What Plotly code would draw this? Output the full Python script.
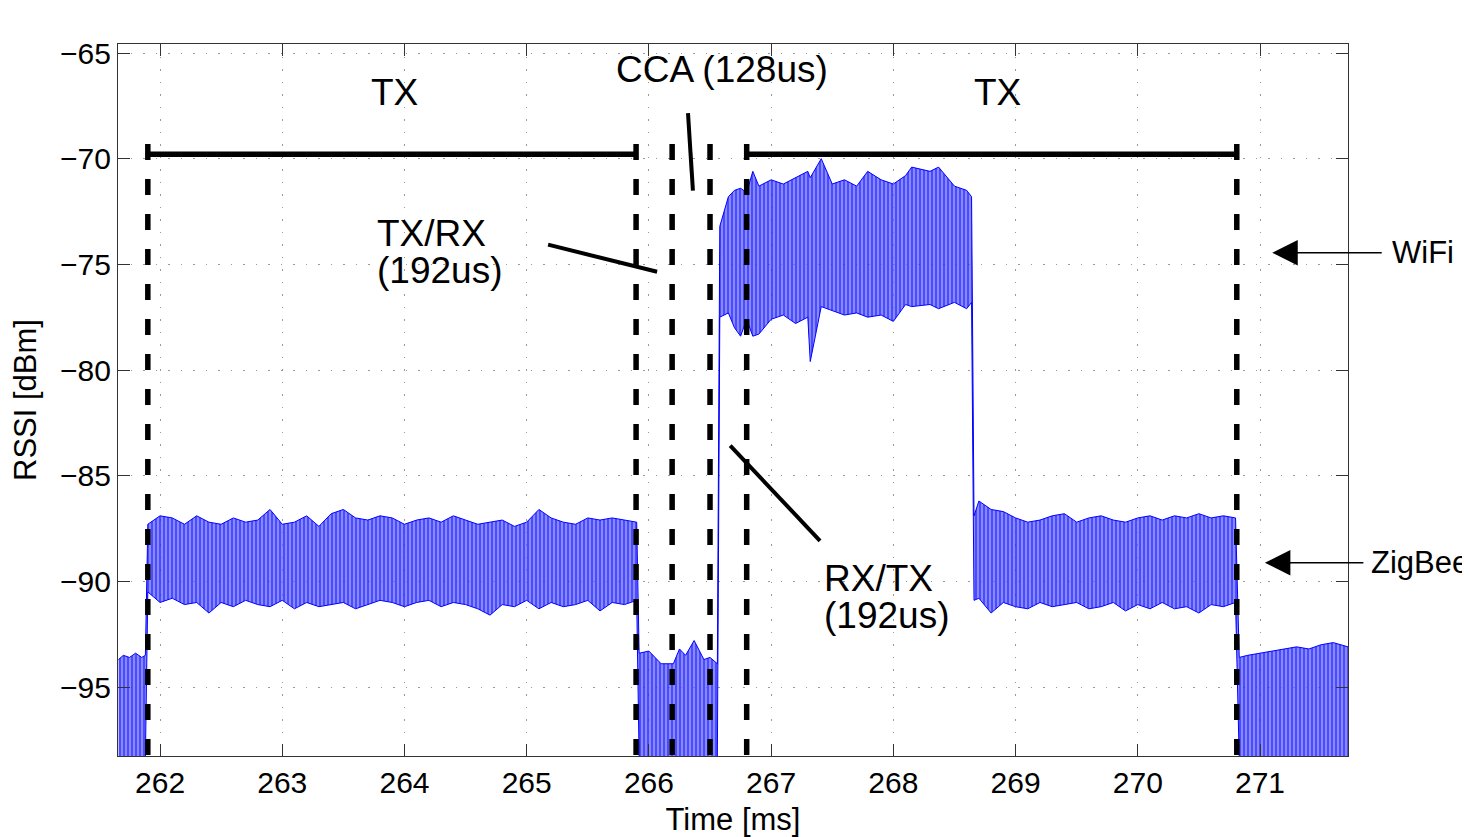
import plotly.graph_objects as go

# ---------------- data ----------------
# RSSI trace drawn as its upper / lower envelope (dBm) vs time (ms)
seg1_t  = [261.66, 261.70, 261.75, 261.80, 261.85, 261.88]
seg1_hi = [-93.7, -93.5, -93.6, -93.4, -93.6, -93.5]
seg1_lo = [-98.4, -98.4, -98.4, -98.4, -98.4, -98.4]

seg2_t  = [261.90, 262.0, 262.1, 262.2, 262.3, 262.4, 262.5, 262.6, 262.7, 262.8,
           262.9, 263.0, 263.1, 263.2, 263.3, 263.4, 263.5, 263.6, 263.7, 263.8,
           263.9, 264.0, 264.1, 264.2, 264.3, 264.4, 264.5, 264.6, 264.7, 264.8,
           264.9, 265.0, 265.1, 265.2, 265.3, 265.4, 265.5, 265.6, 265.7, 265.8, 265.9]
seg2_hi = [-87.3, -86.9, -87.0, -87.3, -86.9, -87.2, -87.3, -87.0, -87.2, -87.1,
           -86.6, -87.3, -87.2, -86.9, -87.4, -86.8, -86.6, -87.0, -87.1, -86.9,
           -87.0, -87.3, -87.1, -87.0, -87.2, -86.9, -87.1, -87.3, -87.2, -87.1,
           -87.4, -87.2, -86.6, -87.0, -87.2, -87.3, -87.0, -87.1, -87.0, -87.1, -87.2]
seg2_lo = [-90.5, -91.0, -90.8, -91.1, -91.0, -91.5, -91.0, -91.2, -90.9, -91.1,
           -91.2, -90.9, -91.3, -91.0, -91.2, -91.1, -91.0, -91.3, -91.1, -90.9,
           -91.0, -91.2, -91.0, -90.9, -91.2, -91.0, -91.1, -91.3, -91.6, -91.1,
           -91.2, -90.9, -91.3, -91.0, -91.2, -91.1, -90.9, -91.4, -91.0, -91.1, -90.9]

seg3_t  = [265.92, 266.0, 266.1, 266.2, 266.25, 266.3, 266.37, 266.45, 266.5, 266.56]
seg3_hi = [-93.4, -93.3, -93.9, -93.9, -93.2, -93.5, -92.8, -93.7, -93.6, -93.9]
seg3_lo = [-98.4, -98.4, -98.4, -98.4, -98.4, -98.4, -98.4, -98.4, -98.4, -98.4]

seg4_t  = [266.58, 266.65, 266.7, 266.75, 266.8, 266.85, 266.9, 267.0, 267.1, 267.2,
           267.3, 267.32, 267.41, 267.5, 267.6, 267.7, 267.79, 267.9, 268.0, 268.1,
           268.15, 268.3, 268.37, 268.5, 268.6, 268.64]
seg4_hi = [-73.2, -71.8, -71.5, -71.4, -71.6, -70.6, -71.3, -71.0, -71.2, -70.9,
           -70.6, -70.9, -70.0, -71.2, -71.0, -71.3, -70.6, -71.0, -71.2, -70.8,
           -70.4, -70.6, -70.4, -71.3, -71.5, -71.8]
seg4_lo = [-77.5, -77.3, -78.0, -78.4, -77.6, -78.4, -78.3, -77.6, -77.4, -77.8,
           -77.5, -79.6, -77.0, -77.2, -77.4, -77.3, -77.5, -77.4, -77.7, -76.9,
           -77.0, -76.9, -77.1, -76.8, -77.1, -76.8]

seg5_t  = [268.66, 268.7, 268.8, 268.9, 269.0, 269.1, 269.2, 269.3, 269.4, 269.5,
           269.6, 269.7, 269.8, 269.9, 270.0, 270.1, 270.2, 270.3, 270.4, 270.5,
           270.6, 270.7, 270.8]
seg5_hi = [-86.9, -86.2, -86.6, -86.7, -87.0, -87.2, -87.1, -86.9, -86.8, -87.2,
           -87.0, -86.9, -87.1, -87.2, -87.0, -86.9, -87.1, -86.9, -87.0, -86.8,
           -87.0, -86.9, -87.0]
seg5_lo = [-90.9, -90.8, -91.5, -91.0, -91.2, -91.3, -91.0, -91.2, -91.1, -91.0,
           -91.3, -91.2, -91.0, -91.4, -91.1, -91.3, -91.0, -91.3, -91.2, -91.5,
           -91.1, -91.2, -91.0]

seg6_t  = [270.83, 270.9, 271.0, 271.1, 271.2, 271.3, 271.4, 271.5, 271.6, 271.72]
seg6_hi = [-93.6, -93.5, -93.4, -93.3, -93.2, -93.1, -93.2, -93.0, -92.9, -93.1]
seg6_lo = [-98.4, -98.4, -98.4, -98.4, -98.4, -98.4, -98.4, -98.4, -98.4, -98.4]

time_ms = seg1_t + seg2_t + seg3_t + seg4_t + seg5_t + seg6_t
rssi_upper = seg1_hi + seg2_hi + seg3_hi + seg4_hi + seg5_hi + seg6_hi
rssi_lower = seg1_lo + seg2_lo + seg3_lo + seg4_lo + seg5_lo + seg6_lo

# phase boundaries (ms): TX start, TX end, CCA start, CCA end, TX start, TX end
phase_edges = [261.90, 265.895, 266.19, 266.50, 266.80, 270.81]
bar_level = -69.79
dash_top = -69.3

x_ticks = [262, 263, 264, 265, 266, 267, 268, 269, 270, 271]
y_ticks = [-95, -90, -85, -80, -75, -70, -65]

# ---------------- figure ----------------
FONT = "Liberation Sans, Arial, Helvetica, sans-serif"
fig = go.Figure()

fig.add_trace(go.Scatter(
    x=time_ms, y=rssi_lower, mode="lines",
    line=dict(color="#0000ff", width=1), hoverinfo="skip", showlegend=False))
fig.add_trace(go.Scatter(
    x=time_ms, y=rssi_upper, mode="lines",
    line=dict(color="#0000ff", width=1), fill="tonexty",
    fillcolor="rgba(90,90,255,0.75)",
    fillpattern=dict(shape="|", fgcolor="#0000ff", bgcolor="rgba(110,110,255,0.7)",
                     size=4, solidity=0.6),
    hoverinfo="skip", showlegend=False))

shapes = []
for e in phase_edges:
    shapes.append(dict(type="line", xref="x", yref="y", x0=e, x1=e, y0=dash_top, y1=-98.3,
                       line=dict(color="black", width=5.5, dash="16px,19px")))
for a, b in [(phase_edges[0], phase_edges[1]), (phase_edges[4], phase_edges[5])]:
    shapes.append(dict(type="line", xref="x", yref="y", x0=a, x1=b, y0=bar_level, y1=bar_level,
                       line=dict(color="black", width=5.5)))

# leader lines for the labels (x0, y0, x1, y1)
leaders = [(266.32, -67.84, 266.36, -71.51),
           (265.175, -74.07, 266.067, -75.35),
           (266.665, -83.58, 267.40, -88.08)]
for x0, y0, x1, y1 in leaders:
    shapes.append(dict(type="line", xref="x", yref="y", x0=x0, y0=y0, x1=x1, y1=y1,
                       line=dict(color="black", width=4)))

ann = []
BIG = 37
ann.append(dict(x=263.92, y=-66.89, text="TX", showarrow=False, font=dict(size=BIG, family=FONT, color="black")))
ann.append(dict(x=268.85, y=-66.89, text="TX", showarrow=False, font=dict(size=BIG, family=FONT, color="black")))
ann.append(dict(x=266.6, y=-65.8, text="CCA (128us)", showarrow=False, font=dict(size=BIG, family=FONT, color="black")))
ann.append(dict(x=263.76, y=-73.53, text="TX/RX", xanchor="left", showarrow=False, font=dict(size=BIG, family=FONT, color="black")))
ann.append(dict(x=263.76, y=-75.28, text="(192us)", xanchor="left", showarrow=False, font=dict(size=BIG, family=FONT, color="black")))
ann.append(dict(x=267.42, y=-89.86, text="RX/TX", xanchor="left", showarrow=False, font=dict(size=BIG, family=FONT, color="black")))
ann.append(dict(x=267.42, y=-91.61, text="(192us)", xanchor="left", showarrow=False, font=dict(size=BIG, family=FONT, color="black")))

# arrows to WiFi / ZigBee levels
ann.append(dict(x=271.10, y=-74.45, ax=111, ay=0, text="", showarrow=True, arrowhead=2,
                arrowsize=3.4, arrowwidth=1.5, arrowcolor="black"))
ann.append(dict(x=271.04, y=-89.12, ax=100, ay=0, text="", showarrow=True, arrowhead=2,
                arrowsize=3.4, arrowwidth=1.5, arrowcolor="black"))
ann.append(dict(xref="paper", yref="paper", x=(1390 - 118) / 1230, y=(756 - 252) / 712, text="WiFi",
                xanchor="left", yanchor="middle", showarrow=False,
                font=dict(size=31, family=FONT, color="black")))
ann.append(dict(xref="paper", yref="paper", x=(1369 - 118) / 1230, y=(756 - 562) / 712, text="ZigBee",
                xanchor="left", yanchor="middle", showarrow=False,
                font=dict(size=31, family=FONT, color="black")))

axis_common = dict(
    ticks="inside", ticklen=12, tickwidth=1, tickcolor="#333",
    showline=True, linecolor="#333", linewidth=1.2, mirror="ticks",
    showgrid=True, gridcolor="#9a9a9a", gridwidth=1, griddash="1.5px,11px",
    zeroline=False, tickfont=dict(size=30, family=FONT, color="black"),
)

fig.update_layout(
    width=1470, height=837,
    margin=dict(l=110, r=130, t=36, b=89),
    paper_bgcolor="white", plot_bgcolor="white",
    showlegend=False,
    shapes=shapes, annotations=ann,
    xaxis=dict(range=[261.656, 271.72], tickvals=x_ticks,
               title=dict(text="Time [ms]", font=dict(size=31, family=FONT, color="black"), standoff=10),
               **axis_common),
    yaxis=dict(range=[-98.265, -64.574], tickvals=y_ticks,
               title=dict(text="RSSI [dBm]", font=dict(size=31, family=FONT, color="black"), standoff=18),
               **axis_common),
)

fig.write_html("out.html")
